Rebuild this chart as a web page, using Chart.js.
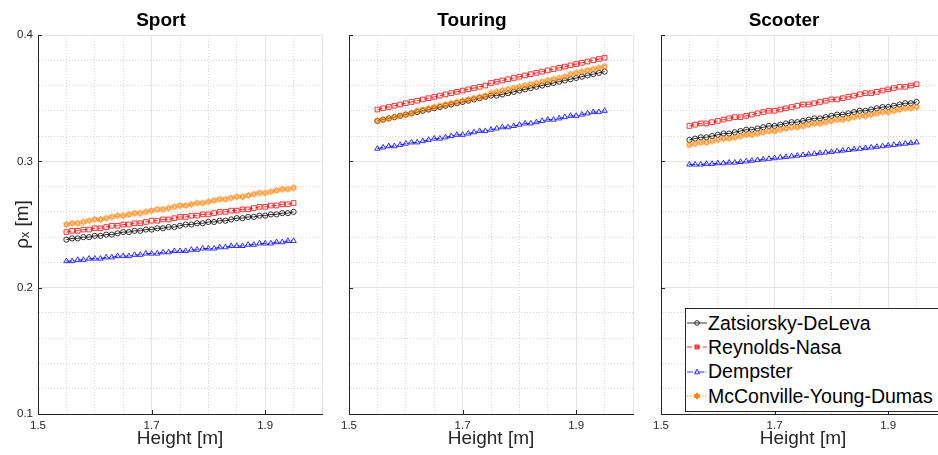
<!DOCTYPE html>
<html>
<head>
<meta charset="utf-8">
<script src="https://cdn.jsdelivr.net/npm/chart.js@4"></script>
<style>
html, body { margin: 0; padding: 0; background: #fff; }
#wrap { position: relative; width: 938px; height: 455px; overflow: hidden; font-family: "Liberation Sans", Arial, sans-serif; }
#wrap canvas.panel { position: absolute; top: 0; }
#legend { position: absolute; left: 685px; top: 308px; width: 262px; height: 104px; border: 1px solid #262626; background: #fff; box-sizing: border-box; padding-top: 2px; }
.row { height: 24.3px; display: flex; align-items: center; font-size: 19.5px; color: #000; white-space: nowrap; }
.row svg { margin-left: 1px; margin-right: 1px; }
</style>
</head>
<body>
<div id="wrap">
  <canvas class="panel" id="sport" width="360" height="455" style="left:0px"></canvas>
  <canvas class="panel" id="touring" width="360" height="455" style="left:311px"></canvas>
  <canvas class="panel" id="scooter" width="360" height="455" style="left:623px"></canvas>
  <div id="legend"></div>
</div>
<script>
// heights [m]
const heights = [1.55, 1.56, 1.57, 1.58, 1.59, 1.60, 1.61, 1.62, 1.63, 1.64, 1.65, 1.66, 1.67, 1.68, 1.69, 1.70,
  1.71, 1.72, 1.73, 1.74, 1.75, 1.76, 1.77, 1.78, 1.79, 1.80, 1.81, 1.82, 1.83, 1.84, 1.85,
  1.86, 1.87, 1.88, 1.89, 1.90, 1.91, 1.92, 1.93, 1.94, 1.95]

const xTicks = [1.5, 1.7, 1.9]
const yTicks = [0.1, 0.2, 0.3, 0.4]

const seriesNames = ['Zatsiorsky-DeLeva', 'Reynolds-Nasa', 'Dempster', 'McConville-Young-Dumas']
const panelTitles = ['Sport', 'Touring', 'Scooter']

// Sport
const sportZatsiorsky = [.238, .239, .239, .240, .240, .241, .241, .242, .242, .243, .244, .244, .245, .245, .246, .246, .247, .247, .248, .248,
  .249, .250, .250, .251, .251, .252, .252, .253, .253, .254, .255, .255, .256, .256, .257, .257, .258, .258, .259, .259, .260]
const sportReynolds = [.244, .245, .245, .246, .246, .247, .247, .248, .249, .249, .250, .250, .251, .251, .252, .253, .253, .254, .254, .255,
  .256, .256, .257, .257, .258, .258, .259, .260, .260, .261, .261, .262, .262, .263, .264, .264, .265, .265, .266, .266, .267]
const sportDempster = [.221, .221, .222, .222, .223, .223, .223, .224, .224, .225, .225, .225, .226, .226, .227, .227, .227, .228, .228, .229,
  .229, .229, .230, .230, .231, .231, .231, .232, .232, .233, .233, .233, .234, .234, .235, .235, .235, .236, .236, .237, .237]
const sportMcConville = [.250, .251, .251, .252, .253, .254, .254, .255, .256, .257, .257, .258, .259, .259, .260, .261, .262, .262, .263, .264,
  .265, .265, .266, .267, .267, .268, .269, .270, .270, .271, .272, .272, .273, .274, .275, .275, .276, .277, .278, .278, .279]

// Touring
const touringZatsiorsky = [.332, .333, .334, .335, .336, .337, .338, .339, .340, .341, .342, .343, .344, .345, .346, .347, .348, .349, .350, .351,
  .352, .352, .353, .354, .355, .356, .357, .358, .359, .360, .361, .362, .363, .364, .365, .366, .367, .368, .369, .370, .371]
const touringReynolds = [.341, .342, .343, .344, .345, .346, .347, .348, .349, .350, .351, .352, .353, .354, .355, .356, .357, .358, .359, .360,
  .362, .363, .364, .365, .366, .367, .368, .369, .370, .371, .372, .373, .374, .375, .376, .377, .378, .379, .380, .381, .382]
const touringDempster = [.310, .311, .312, .312, .313, .314, .315, .315, .316, .317, .318, .318, .319, .320, .321, .321, .322, .323, .324, .324,
  .325, .326, .327, .327, .328, .329, .330, .330, .331, .332, .333, .333, .334, .335, .336, .336, .337, .338, .339, .339, .340]
const touringMcConville = [.332, .333, .334, .335, .336, .337, .338, .340, .341, .342, .343, .344, .345, .346, .347, .348, .349, .350, .351, .352,
  .354, .355, .356, .357, .358, .359, .360, .361, .362, .363, .364, .365, .366, .367, .369, .370, .371, .372, .373, .374, .375]

// Scooter
const scooterZatsiorsky = [.317, .318, .319, .319, .320, .321, .322, .322, .323, .324, .325, .325, .326, .327, .328, .328, .329, .330, .331, .331,
  .332, .333, .334, .334, .335, .336, .337, .337, .338, .339, .340, .340, .341, .342, .343, .343, .344, .345, .346, .346, .347]
const scooterReynolds = [.328, .329, .330, .330, .331, .332, .333, .334, .335, .335, .336, .337, .338, .339, .340, .340, .341, .342, .343, .344,
  .345, .345, .346, .347, .348, .349, .349, .350, .351, .352, .353, .354, .354, .355, .356, .357, .358, .359, .359, .360, .361]
const scooterDempster = [.2975, .2975, .2975, .298, .298, .2985, .2985, .299, .299, .2995, .300, .3005, .301, .3015, .302, .3025, .303, .3035, .304, .3045,
  .305, .3055, .306, .3065, .307, .3075, .308, .3085, .309, .3095, .310, .3105, .311, .3115, .312, .3125, .313, .3135, .314, .3145, .315]
const scooterMcConville = [.313, .314, .315, .315, .316, .317, .318, .318, .319, .320, .321, .321, .322, .323, .324, .324, .325, .326, .327, .327,
  .328, .329, .330, .330, .331, .332, .333, .333, .334, .335, .336, .336, .337, .338, .339, .339, .340, .341, .342, .342, .343]

const axisColor = '#262626'
const majorGrid = '#e4e4e4'
const minorGrid = '#d6d6d6'
const fontFamily = '"Liberation Sans", Arial, sans-serif'

const near = (a, b) => Math.abs(a - b) < 1e-6

// small hexagram marker for the McConville series
function hexagram(color) {
  const c = document.createElement('canvas')
  c.width = 9
  c.height = 9
  const g = c.getContext('2d')
  g.strokeStyle = color
  g.lineWidth = 0.8
  for (const rot of [-Math.PI / 2, Math.PI / 2]) {
    g.beginPath()
    for (let k = 0; k < 3; k++) {
      const a = rot + k * 2 * Math.PI / 3
      const px = 4.5 + 3.2 * Math.cos(a), py = 4.5 + 3.2 * Math.sin(a)
      if (k) g.lineTo(px, py); else g.moveTo(px, py)
    }
    g.closePath()
    g.stroke()
  }
  return c
}

const styles = [
  { color: '#000000', point: 'circle', radius: 2.6, dash: [] },
  { color: '#ff0000', point: 'rect', radius: 3.3, dash: [5, 3] },
  { color: '#0000ff', point: 'triangle', radius: 3.1, dash: [6, 2, 1.5, 2] },
  { color: '#ff8000', point: hexagram('#ff8000'), radius: 3.2, dash: [1.5, 1.5] }
]

const innerTicks = {
  id: 'innerTicks',
  afterDraw(chart) {
    const { ctx, chartArea, scales } = chart
    ctx.save()
    ctx.strokeStyle = axisColor
    ctx.lineWidth = 1
    ctx.beginPath()
    xTicks.forEach(v => {
      const px = Math.round(scales.x.getPixelForValue(v)) + 0.5
      ctx.moveTo(px, chartArea.bottom)
      ctx.lineTo(px, chartArea.bottom - 4)
    })
    yTicks.forEach(v => {
      const py = Math.round(scales.y.getPixelForValue(v)) + 0.5
      ctx.moveTo(chartArea.left, py)
      ctx.lineTo(chartArea.left + 4, py)
    })
    ctx.stroke()
    ctx.restore()
  }
}

function makePanel(id, title, values, showY) {
  const datasets = values.map((vals, i) => ({
    label: seriesNames[i],
    data: heights.map((h, j) => ({ x: h, y: vals[j] })),
    borderColor: styles[i].color,
    borderWidth: 0.8,
    borderDash: styles[i].dash,
    pointStyle: styles[i].point,
    pointRadius: styles[i].radius,
    pointBorderColor: styles[i].color,
    pointBackgroundColor: 'rgba(0,0,0,0)',
    pointBorderWidth: 0.8,
    order: 4 - i,
    tension: 0
  }))

  new Chart(document.getElementById(id), {
    type: 'line',
    data: { datasets },
    plugins: [innerTicks],
    options: {
      responsive: false,
      animation: false,
      devicePixelRatio: 1,
      layout: { padding: { left: 0, right: 38, top: 0, bottom: 0 } },
      plugins: {
        legend: { display: false },
        tooltip: { enabled: false },
        title: {
          display: true,
          text: title,
          color: '#000',
          font: { family: fontFamily, size: 19, weight: 'bold' },
          padding: { top: 9, bottom: 3.2 }
        }
      },
      scales: {
        x: {
          type: 'linear',
          min: 1.5,
          max: 2.0,
          afterFit: s => { s.height = 41 },
          ticks: {
            stepSize: 0.05,
            autoSkip: false,
            maxRotation: 0,
            padding: 5,
            color: axisColor,
            font: { family: fontFamily, size: 11.5 },
            callback: v => xTicks.some(t => near(t, v)) ? v.toFixed(1) : ''
          },
          grid: {
            drawTicks: false,
            lineWidth: 1,
            color: ctx => (ctx.tick && (xTicks.some(t => near(t, ctx.tick.value)) || near(ctx.tick.value, 2.0))) ? majorGrid : minorGrid
          },
          border: {
            color: axisColor,
            width: 1,
            dash: ctx => (ctx.tick && !(xTicks.some(t => near(t, ctx.tick.value)) || near(ctx.tick.value, 2.0))) ? [1, 2] : []
          },
          title: {
            display: true,
            text: 'Height [m]',
            color: axisColor,
            font: { family: fontFamily, size: 19 },
            padding: { top: 0, bottom: 5 }
          }
        },
        y: {
          min: 0.1,
          max: 0.4,
          afterFit: s => { s.width = 38 },
          ticks: {
            display: showY,
            stepSize: 0.02,
            autoSkip: false,
            padding: 5,
            color: axisColor,
            font: { family: fontFamily, size: 11.5 },
            callback: v => yTicks.some(t => near(t, v)) ? v.toFixed(1) : ''
          },
          grid: {
            drawTicks: false,
            lineWidth: 1,
            color: ctx => (ctx.tick && yTicks.some(t => near(t, ctx.tick.value))) ? majorGrid : minorGrid
          },
          border: {
            color: axisColor,
            width: 1,
            dash: ctx => (ctx.tick && !yTicks.some(t => near(t, ctx.tick.value))) ? [1, 2] : []
          },
          title: {
            display: showY,
            text: 'ρₓ [m]',
            color: axisColor,
            font: { family: fontFamily, size: 19 },
            padding: { top: 11, bottom: 0 }
          }
        }
      }
    }
  })
}

makePanel('sport', panelTitles[0], [sportZatsiorsky, sportReynolds, sportDempster, sportMcConville], true)
makePanel('touring', panelTitles[1], [touringZatsiorsky, touringReynolds, touringDempster, touringMcConville], false)
makePanel('scooter', panelTitles[2], [scooterZatsiorsky, scooterReynolds, scooterDempster, scooterMcConville], false)

// legend box (Scooter panel, bottom right)
function sampleSvg(i) {
  const st = styles[i]
  const dash = st.dash.length ? `stroke-dasharray="${st.dash.join(' ')}"` : ''
  let marker = ''
  if (i === 0) marker = `<circle cx="10" cy="6" r="2.3" fill="none" stroke="${st.color}" stroke-width="0.8"/>`
  if (i === 1) marker = `<rect x="8" y="4" width="4" height="4" fill="${st.color}" fill-opacity="0.5" stroke="${st.color}" stroke-width="0.8"/>`
  if (i === 2) marker = `<polygon points="10,3.2 12.5,7.8 7.5,7.8" fill="none" stroke="${st.color}" stroke-width="0.8"/>`
  if (i === 3) marker = `<polygon points="10,2.8 12.8,7.6 7.2,7.6" fill="${st.color}" stroke="${st.color}" stroke-width="0.8"/>` +
    `<polygon points="10,9.2 12.8,4.4 7.2,4.4" fill="${st.color}" stroke="${st.color}" stroke-width="0.8"/>`
  return `<svg width="20" height="12" viewBox="0 0 20 12"><line x1="0" y1="6" x2="20" y2="6" stroke="${st.color}" stroke-width="0.8" ${dash}/>${marker}</svg>`
}

const legend = document.getElementById('legend')
seriesNames.forEach((name, i) => {
  const row = document.createElement('div')
  row.className = 'row'
  row.innerHTML = sampleSvg(i) + '<span>' + name + '</span>'
  legend.appendChild(row)
})
</script>
</body>
</html>
